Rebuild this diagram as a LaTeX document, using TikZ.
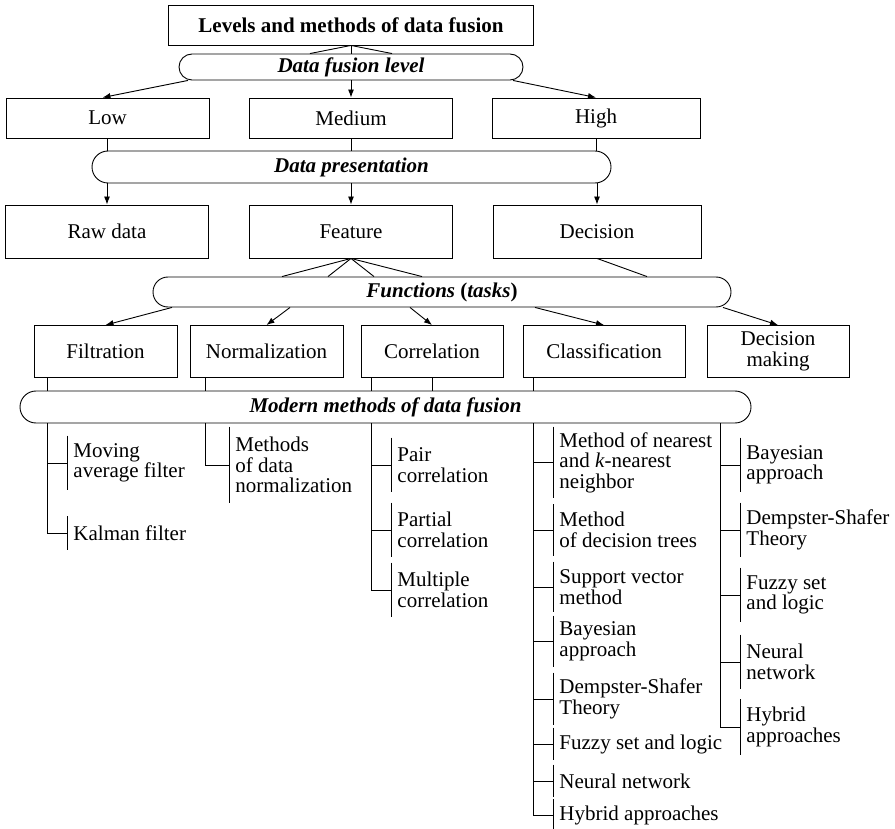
\documentclass[tikz,border=0pt]{standalone}
\usepackage{fontspec}
\setmainfont{Liberation Serif}
\usetikzlibrary{arrows.meta, calc}

\begin{document}
\begin{tikzpicture}[
    x=1pt, y=-1pt,
    line width=0.9pt,
    every node/.style={font=\fontsize{21}{20.5}\selectfont},
    box/.style={draw, rectangle, align=center, inner sep=0pt, minimum height=40pt},
    pill/.style={draw, rectangle, align=center, inner sep=0pt, font=\fontsize{21}{20.5}\selectfont\bfseries\itshape},
    leaf/.style={anchor=west, align=left, inner xsep=6pt, inner ysep=0pt},
    arrow/.style={-{Latex[length=8pt, width=6pt]}}
]
\useasboundingbox (0,0) rectangle (895,829);

\node (title) [box, minimum width=365pt, font=\fontsize{21}{20.5}\selectfont\bfseries] at (351,25) {Levels and methods of data fusion};
\node (lvl) [pill, rounded corners=13pt, minimum width=344pt, minimum height=26pt] at (351,67) {Data fusion level};

\node (low) [box, minimum width=203pt] at (107.5,118) {Low};
\node (med) [box, minimum width=203pt] at (351,118) {Medium};
\node (high) [box, minimum width=208pt] at (596,118) {High};
\node (pres) [pill, rounded corners=16pt, minimum width=519pt, minimum height=32pt] at (351.5,167) {Data presentation};

\node (raw) [box, minimum width=203pt, minimum height=53pt] at (107,231.5) {Raw data};
\node (feat) [box, minimum width=203pt, minimum height=53pt] at (351,231.5) {Feature};
\node (dec) [box, minimum width=208pt, minimum height=53pt] at (597,231.5) {Decision};
\node (func) [pill, rounded corners=15pt, minimum width=578pt, minimum height=30pt] at (442,292) {Functions \textup{(}tasks\textup{)}};

\node (filt) [box, minimum width=143pt, minimum height=52pt] at (105.5,351.5) {Filtration};
\node (norm) [box, minimum width=153pt, minimum height=52pt] at (266.5,351.5) {Normalization};
\node (corr) [box, minimum width=142pt, minimum height=52pt] at (432,351.5) {Correlation};
\node (clas) [box, minimum width=162pt, minimum height=52pt] at (604,351.5) {Classification};
\node (dm) [box, minimum width=142pt, minimum height=52pt] at (778,351.5) {Decision\\making};
\node (mod) [pill, rounded corners=16pt, minimum width=731pt, minimum height=32pt] at (385.5,407) {Modern methods of data fusion};

% methods
\node (mov) [leaf, minimum height=54pt] at (67,463) {Moving\\average filter};
\node (kal) [leaf, minimum height=33pt] at (67,533) {Kalman filter};
\node (mnorm) [leaf, minimum height=76pt] at (229,465) {Methods\\of data\\normalization};
\node (pair) [leaf, minimum height=54pt] at (391,465) {Pair\\correlation};
\node (part) [leaf, minimum height=54pt] at (391,530) {Partial\\correlation};
\node (mult) [leaf, minimum height=54pt] at (391,590) {Multiple\\correlation};
\node (knn) [leaf, minimum height=71pt] at (553,462.5) {Method of nearest\\and \textit{k}-nearest\\neighbor};
\node (tree) [leaf, minimum height=51pt] at (553,530) {Method\\of decision trees};
\node (svm) [leaf, minimum height=50pt] at (553,587) {Support vector\\method};
\node (bay1) [leaf, minimum height=51pt] at (553,641.5) {Bayesian\\approach};
\node (ds1) [leaf, minimum height=52pt] at (553,699) {Dempster-Shafer\\Theory};
\node (fuz1) [leaf, minimum height=32pt] at (553,744) {Fuzzy set and logic};
\node (nn1) [leaf, minimum height=32pt] at (553,781) {Neural network};
\node (hyb1) [leaf, minimum height=31pt] at (553,815) {Hybrid approaches};
\node (bay2) [leaf, minimum height=54pt] at (740,465) {Bayesian\\approach};
\node (ds2) [leaf, minimum height=54pt] at (740,530) {Dempster-Shafer\\Theory};
\node (fuz2) [leaf, minimum height=54pt] at (740,595) {Fuzzy set\\and logic};
\node (nn2) [leaf, minimum height=54pt] at (740,662) {Neural\\network};
\node (hyb2) [leaf, minimum height=55pt] at (740,727) {Hybrid\\approaches};

\foreach \n in {mov,kal,mnorm,pair,part,mult,knn,tree,svm,bay1,ds1,fuz1,nn1,hyb1,bay2,ds2,fuz2,nn2,hyb2}
    \draw (\n.north west) -- (\n.south west);

\coordinate (tf) at (47,0);
\coordinate (tn) at (205,0);
\coordinate (tc) at (371,0);
\coordinate (tc2) at (432,0);
\coordinate (tk) at (533,0);
\coordinate (td) at (720,0);

% levels
\draw (title.south) -- (title.south |- lvl.north);
\draw (title.south) -- ($(lvl.north)+(-41,0)$);
\draw (title.south) -- ($(lvl.north)+(41,0)$);
\draw [arrow] ($(lvl.south)+(-163,0)$) -- ($(low.north)+(-5,0)$);
\draw [arrow] (med.north |- lvl.south) -- (med.north);
\draw [arrow] ($(lvl.south)+(162,0)$) -- (high.north);

% presentation
\draw (low.south) -- (low.south |- pres.north);
\draw (med.south) -- (med.south |- pres.north);
\draw (high.south) -- (high.south |- pres.north);
\draw [arrow] (raw.north |- pres.south) -- (raw.north);
\draw [arrow] (feat.north |- pres.south) -- (feat.north);
\draw [arrow] (dec.north |- pres.south) -- (dec.north);

% functions
\draw (feat.south) -- ($(func.north)+(-160,0)$);
\draw (feat.south) -- ($(func.north)+(-114,0)$);
\draw (feat.south) -- ($(func.north)+(-68,0)$);
\draw (feat.south) -- ($(func.north)+(-20,0)$);
\draw (dec.south) -- ($(func.north)+(205,0)$);
\draw [arrow] ($(func.south)+(-270,0)$) -- (filt.north);
\draw [arrow] ($(func.south)+(-152,0)$) -- (norm.north);
\draw [arrow] ($(func.south)+(-32,0)$) -- (corr.north);
\draw [arrow] ($(func.south)+(93,0)$) -- (clas.north);
\draw [arrow] ($(func.south)+(281,0)$) -- (dm.north);

% modern methods
\draw (filt.south -| tf) -- (mod.north -| tf);
\draw (norm.south -| tn) -- (mod.north -| tn);
\draw (corr.south -| tc) -- (mod.north -| tc);
\draw (corr.south -| tc2) -- (mod.north -| tc2);
\draw (clas.south -| tk) -- (mod.north -| tk);

\draw (mod.south -| tf) |- (mov.west);
\draw (mod.south -| tf) |- (kal.west);
\draw (mod.south -| tn) |- (mnorm.west);
\draw (mod.south -| tc) |- (pair.west);
\draw (mod.south -| tc) |- (part.west);
\draw (mod.south -| tc) |- (mult.west);
\draw (mod.south -| tk) |- (knn.west);
\draw (mod.south -| tk) |- (tree.west);
\draw (mod.south -| tk) |- (svm.west);
\draw (mod.south -| tk) |- (bay1.west);
\draw (mod.south -| tk) |- (ds1.west);
\draw (mod.south -| tk) |- (fuz1.west);
\draw (mod.south -| tk) |- (nn1.west);
\draw (mod.south -| tk) |- (hyb1.west);
\draw (mod.south -| td) |- (bay2.west);
\draw (mod.south -| td) |- (ds2.west);
\draw (mod.south -| td) |- (fuz2.west);
\draw (mod.south -| td) |- (nn2.west);
\draw (mod.south -| td) |- (hyb2.west);

\end{tikzpicture}
\end{document}
